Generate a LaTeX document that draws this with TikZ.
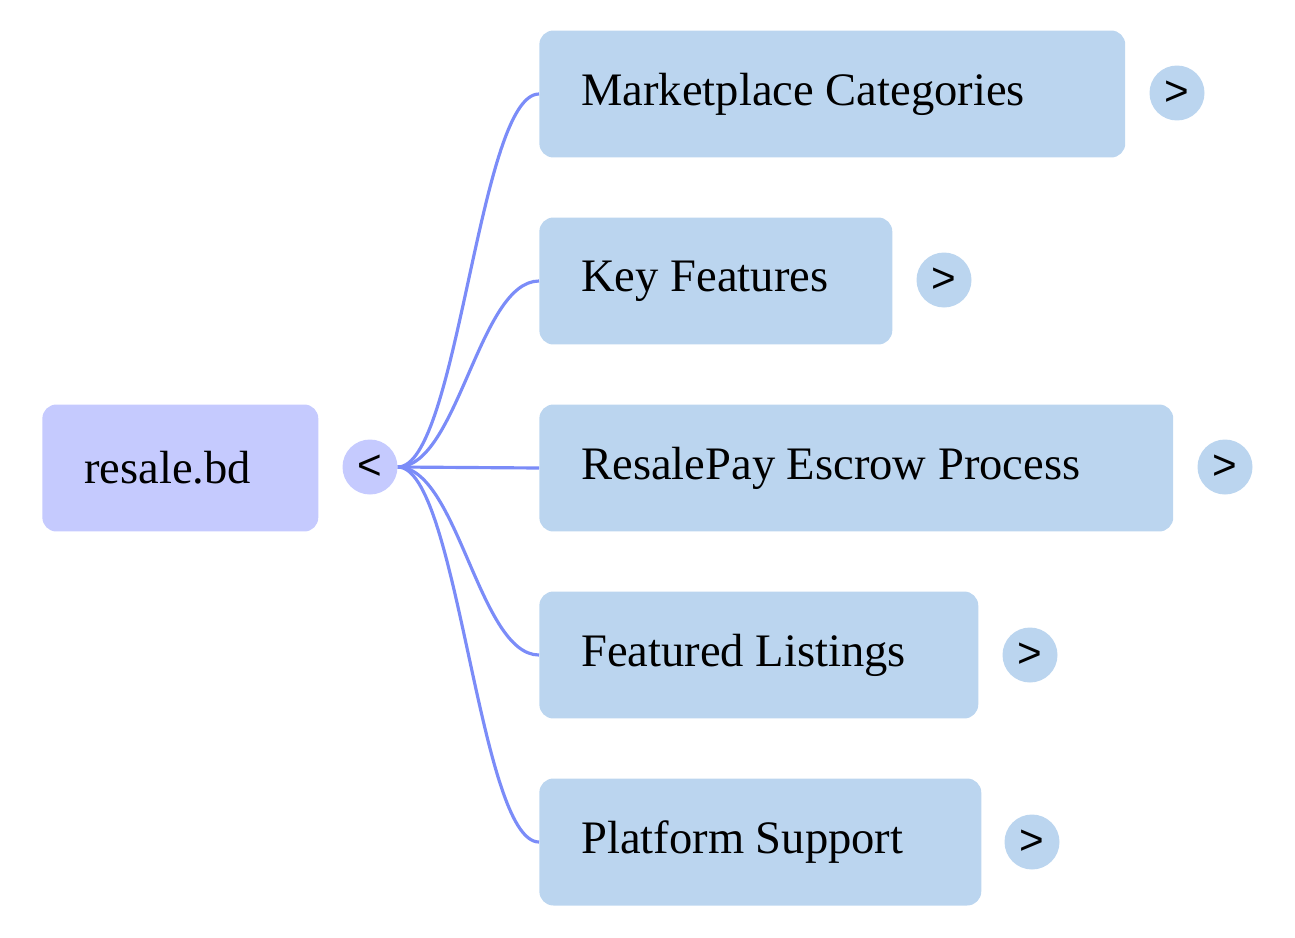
\documentclass[tikz,border=0pt]{standalone}
\usepackage{fontspec}
\setmainfont{Liberation Serif}
\setsansfont{Liberation Sans}
\definecolor{rootfill}{HTML}{C5CAFE}
\definecolor{childfill}{HTML}{BBD5EF}
\definecolor{linkblue}{HTML}{7B8CF8}
\tikzset{
  box/.style={rounded corners=8pt, minimum height=2.54cm, inner xsep=0.84cm,
    align=flush left, anchor=west, font=\fontsize{26.5}{30}\selectfont},
  topic/.style={box, fill=childfill, text width=#1},
  toggle/.style={circle, minimum size=1.1cm, inner sep=0pt, font=\sffamily\fontsize{24}{28}\selectfont},
  link/.style={line width=1.8pt, linkblue}
}
\begin{document}
\begin{tikzpicture}[x=0.02cm,y=-0.02cm]
\useasboundingbox (0,0) rectangle (1295,937);
\node[box, fill=rootfill, text width=3.84cm] (root) at (42,468) {resale.bd};
\node[toggle, fill=rootfill] (fold) at (370,467) {<};

\node[topic=10.04cm] (cat) at (539,94) {Marketplace Categories};
\node[topic=5.38cm] (feat) at (539,281) {Key Features};
\node[topic=11.0cm] (pay) at (539,468) {ResalePay Escrow Process};
\node[topic=7.1cm] (list) at (539,655) {Featured Listings};
\node[topic=7.16cm] (supp) at (539,842) {Platform Support};

\node[toggle, fill=childfill] (catx) at (1177,93) {>};
\node[toggle, fill=childfill] (featx) at (944,280) {>};
\node[toggle, fill=childfill] (payx) at (1225,467) {>};
\node[toggle, fill=childfill] (listx) at (1030,655) {>};
\node[toggle, fill=childfill] (suppx) at (1032,842) {>};

\foreach \t in {cat,feat,list,supp}
  \draw[link] (fold.east) .. controls +(60,0) and +(-60,0) .. (\t.west);
\draw[link] (fold.east) -- (pay.west);
\end{tikzpicture}
\end{document}
